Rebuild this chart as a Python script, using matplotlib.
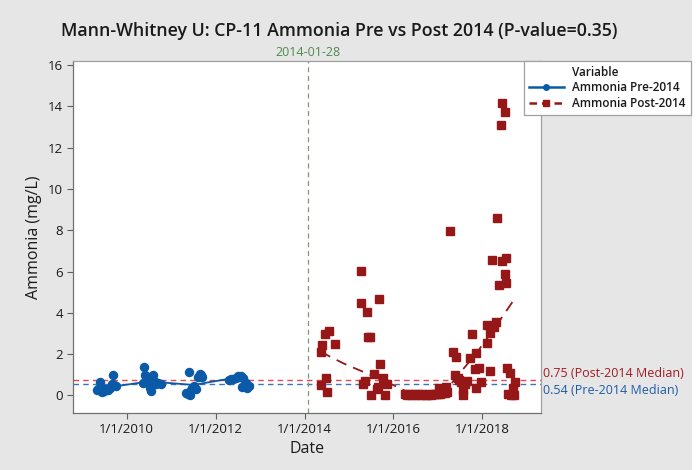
import matplotlib
matplotlib.use("Agg")
import matplotlib.pyplot as plt
from matplotlib.lines import Line2D
from matplotlib.patches import Rectangle

plt.rcParams['font.family'] = ['Open Sans', 'DejaVu Sans']

# ---------------- data (decimal years, mg/L) ----------------
pre_t = [2009.33, 2009.36, 2009.40, 2009.42, 2009.45, 2009.48, 2009.50, 2009.54,
         2009.58, 2009.62, 2009.66, 2009.70, 2009.72, 2009.76,
         2010.36, 2010.40, 2010.42, 2010.45, 2010.48, 2010.50, 2010.52, 2010.55,
         2010.58, 2010.60, 2010.62, 2010.65, 2010.70, 2010.78,
         2011.33, 2011.37, 2011.40, 2011.42, 2011.45, 2011.48, 2011.52, 2011.55,
         2011.60, 2011.65, 2011.68, 2011.70,
         2012.30, 2012.35, 2012.40, 2012.45, 2012.50, 2012.55, 2012.58, 2012.62,
         2012.60, 2012.65, 2012.70, 2012.75, 2012.68]
pre_v = [0.25, 0.30, 0.62, 0.20, 0.15, 0.28, 0.20, 0.30,
         0.25, 0.35, 0.55, 1.00, 0.50, 0.45,
         0.60, 1.35, 1.00, 0.80, 0.65, 0.85, 0.35, 0.20,
         0.90, 1.00, 0.70, 0.55, 0.60, 0.55,
         0.10, 0.05, 1.15, 0.00, 0.25, 0.35, 0.45, 0.30,
         0.90, 1.05, 1.00, 0.90,
         0.75, 0.80, 0.78, 0.85, 0.95, 0.90, 0.95, 0.85,
         0.40, 0.45, 0.35, 0.45, 0.60]

pre_fit_t = [2009.33, 2009.70, 2010.37, 2010.75, 2011.50, 2012.25, 2012.73]
pre_fit_v = [0.26, 0.42, 0.63, 0.63, 0.50, 0.78, 0.71]

post_t = [2014.36, 2014.40, 2014.46, 2014.55, 2014.68, 2014.36, 2014.49, 2014.51,
          2015.26, 2015.28, 2015.41, 2015.47, 2015.43, 2015.67, 2015.69, 2015.56,
          2015.36, 2015.32, 2015.50, 2015.62, 2015.65, 2015.77, 2015.80, 2015.86,
          2016.25, 2016.30, 2016.35, 2016.40, 2016.45, 2016.50, 2016.55, 2016.60,
          2016.65, 2016.70, 2016.75, 2016.80, 2016.85, 2016.90, 2016.95, 2017.00,
          2017.05, 2017.10, 2017.15, 2017.20, 2017.02, 2017.19,
          2017.26, 2017.34, 2017.40, 2017.38, 2017.44, 2017.48, 2017.52, 2017.56,
          2017.56, 2017.60, 2017.65, 2017.77, 2017.73, 2017.86, 2017.83, 2017.92,
          2017.85, 2017.96, 2018.11, 2018.11, 2018.16, 2018.22, 2018.31, 2018.26,
          2018.16, 2018.33, 2018.41, 2018.45, 2018.51, 2018.45, 2018.52, 2018.50,
          2018.52, 2018.37, 2018.55, 2018.63, 2018.73, 2018.69, 2018.58, 2018.64,
          2018.72]
post_v = [2.11, 2.44, 2.97, 3.13, 2.49, 0.50, 0.82, 0.14,
          6.04, 4.49, 4.05, 2.84, 2.84, 4.67, 1.52, 1.02,
          0.71, 0.55, 0.02, 0.29, 0.39, 0.82, 0.02, 0.55,
          0.04, 0.03, 0.05, 0.03, 0.04, 0.02, 0.05, 0.03,
          0.04, 0.02, 0.03, 0.05, 0.03, 0.04, 0.06, 0.05,
          0.08, 0.10, 0.12, 0.15, 0.34, 0.42,
          7.98, 2.11, 1.84, 0.98, 0.85, 0.75, 0.65, 0.26,
          0.02, 0.55, 0.70, 2.97, 1.79, 2.03, 1.26, 1.31,
          0.34, 0.66, 2.55, 3.41, 3.00, 6.56, 3.57, 3.30,
          1.20, 8.58, 13.10, 14.18, 13.75, 6.52, 6.64, 5.86,
          5.46, 5.35, 1.31, 1.10, 0.66, 0.34, 0.06, 0.02,
          0.02]

post_fit_t = [2014.36, 2014.87, 2015.39, 2015.99, 2016.37, 2016.89, 2017.19,
              2017.49, 2017.86, 2018.24, 2018.50, 2018.73]
post_fit_v = [2.11, 1.55, 1.07, 0.50, 0.10, 0.06, 0.26,
              1.07, 2.03, 3.16, 3.97, 4.70]

pre_median = 0.54
post_median = 0.75
cut_date = 2014 + 27 / 365.0
cut_label = "2014-01-28"

xtick_vals = [2010, 2012, 2014, 2016, 2018]
xtick_labels = ["1/1/2010", "1/1/2012", "1/1/2014", "1/1/2016", "1/1/2018"]
ytick_vals = [0, 2, 4, 6, 8, 10, 12, 14, 16]

# ---------------- styling ----------------
W, H = 699, 470
blue = "#0b5aa8"
red = "#961717"
bg = "#e6e6e6"

fig = plt.figure(figsize=(W / 100, H / 100), dpi=100, facecolor=bg)
fig.patches.append(Rectangle((692 / W, 0), 1, 1, transform=fig.transFigure,
                             facecolor="white", edgecolor="none", zorder=-1))

ax = fig.add_axes([73.3 / W, 1 - 413 / H, (540.7 - 73.3) / W, (413 - 60.7) / H])
ax.set_facecolor("white")

ax.plot(pre_fit_t, pre_fit_v, color=blue, lw=1.3, zorder=3)
ax.plot(pre_t, pre_v, 'o', color=blue, ms=5.8, mec=blue, zorder=4)
ax.plot(post_fit_t, post_fit_v, color=red, lw=1.3, ls=(0, (6, 4)), zorder=3)
ax.plot(post_t, post_v, 's', color=red, ms=6, mec=red, zorder=4)

ax.axhline(post_median, color="#e8484c", lw=1, ls=(0, (4, 3)), zorder=2)
ax.axhline(pre_median, color="#3b73c4", lw=1, ls=(0, (4, 3)), zorder=2)
ax.axvline(cut_date, color="#7a9a7a", lw=0.9, ls=(0, (4, 3)), zorder=2)

ax.set_xlim(2008.8, 2019.31)
ax.set_ylim(-0.86, 16.22)
ax.set_xticks(xtick_vals)
ax.set_xticklabels(xtick_labels)
ax.set_yticks(ytick_vals)
ax.tick_params(axis='both', labelsize=9.5, color="#606060", length=4, width=0.8,
               direction='out', labelcolor="#1a1a1a")
ax.tick_params(top=False, right=False)
for s in ax.spines.values():
    s.set_color("#a0a0a0")
    s.set_linewidth(0.9)
ax.spines['left'].set_color("#707070")
ax.spines['bottom'].set_color("#707070")

ax.set_xlabel("Date", fontsize=11.5, labelpad=3, color="#1a1a1a")
ax.set_ylabel("Ammonia (mg/L)", fontsize=11.5, labelpad=4, color="#1a1a1a")

fig.text(339 / W, 1 - 31 / H,
         "Mann-Whitney U: CP-11 Ammonia Pre vs Post 2014 (P-value=0.35)",
         ha="center", va="center", fontsize=12.8, fontweight="semibold",
         color="#1a1a1a")
ax.text(cut_date, 1.005, cut_label, transform=ax.get_xaxis_transform(),
        ha="center", va="bottom", fontsize=9, color="#4e8a4e")

ax.text(1.005, post_median, f"{post_median:.2f} (Post-2014 Median)",
        transform=ax.get_yaxis_transform(), ha="left", va="bottom",
        fontsize=9, color="#a01c24", clip_on=False)
ax.text(1.005, pre_median, f"{pre_median:.2f} (Pre-2014 Median)",
        transform=ax.get_yaxis_transform(), ha="left", va="top",
        fontsize=9, color="#1f5aa8", clip_on=False)

handles = [Line2D([], [], color="none"),
           Line2D([], [], color=blue, lw=1.8, marker='o', ms=4),
           Line2D([], [], color=red, lw=1.8, ls=(0, (3, 2)), marker='s', ms=4.5)]
labels = ["Variable", "Ammonia Pre-2014", "Ammonia Post-2014"]
leg = fig.legend(handles, labels, loc="upper left",
                 bbox_to_anchor=(524 / W, 1 - 60.7 / H),
                 prop={"size": 8.5, "weight": "semibold"},
                 frameon=True, fancybox=False, framealpha=1, edgecolor="#a0a0a0",
                 handlelength=2.9, handletextpad=0.7, borderpad=0.45,
                 labelspacing=0.2, borderaxespad=0)
leg.get_frame().set_linewidth(0.9)
for t in leg.get_texts():
    t.set_color("#1a1a1a")

fig.savefig("out.png", dpi=100, facecolor=bg)
